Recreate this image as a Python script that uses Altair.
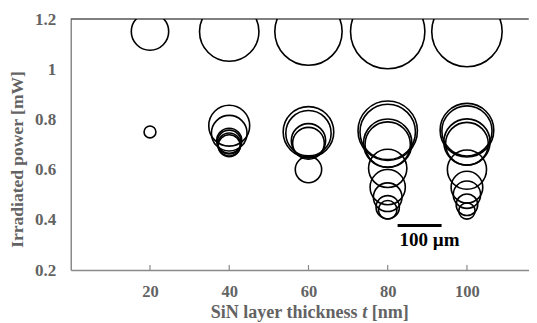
import altair as alt
import pandas as pd

# ---- data ----
# top row (irradiated power ~1.15 mW)
top_thickness = [20, 40, 60, 80, 100]
top_power = [1.15, 1.15, 1.15, 1.15, 1.15]
top_diam_um = [85, 135, 153, 169, 160]

# lower clusters
t20_power = [0.75]
t20_diam = [27]
t40_power = [0.775, 0.745, 0.715, 0.71, 0.70, 0.695]
t40_diam = [93, 81, 57, 54, 52, 50]
t60_power = [0.75, 0.745, 0.715, 0.705, 0.60]
t60_diam = [115, 103, 78, 72, 60]
t80_power = [0.755, 0.75, 0.705, 0.70, 0.605, 0.53, 0.49, 0.45, 0.44]
t80_diam = [135, 126, 110, 103, 87, 80, 65, 53, 42]
t100_power = [0.757, 0.754, 0.71, 0.703, 0.60, 0.53, 0.50, 0.46, 0.435]
t100_diam = [122, 114, 105, 97, 89, 72, 62, 49, 37]

x_ticks = [20, 40, 60, 80, 100]
y_ticks = [0.2, 0.4, 0.6, 0.8, 1.0, 1.2]

scalebar_x = [82.5, 93.6]
scalebar_y = 0.377
scalebar_label = "100 µm"

rows = []
for t, p, d in zip(top_thickness, top_power, top_diam_um):
    rows.append({"t": t, "p": p, "d": d})
for t, plist, dlist in [(20, t20_power, t20_diam), (40, t40_power, t40_diam),
                        (60, t60_power, t60_diam), (80, t80_power, t80_diam),
                        (100, t100_power, t100_diam)]:
    for p, d in zip(plist, dlist):
        rows.append({"t": t, "p": p, "d": d})
df = pd.DataFrame(rows)

W, H = 458, 251
FONT = "Liberation Serif"
GRAY = "#636363"
AXG = "#8a8a8a"

xscale = alt.Scale(domain=[0, 115.6], nice=False, zero=False)
yscale = alt.Scale(domain=[0.2, 1.2], nice=False, zero=False)

circles = alt.Chart(df).mark_point(
    shape="circle", filled=False, stroke="black", strokeWidth=1.6, opacity=1, clip=True
).encode(
    x=alt.X("t:Q", scale=xscale,
            axis=alt.Axis(values=x_ticks, title=None, ticks=False, grid=False,
                          labelPadding=13, labelFont=FONT, labelFontSize=16.5,
                          labelFontWeight="bold", labelColor=GRAY,
                          domainColor=AXG, domainWidth=1.5)),
    y=alt.Y("p:Q", scale=yscale,
            axis=alt.Axis(values=y_ticks, format="~g", title="Irradiated power [mW]",
                          ticks=False, grid=False, labelPadding=15,
                          labelFont=FONT, labelFontSize=17, labelFontWeight="bold",
                          labelColor=GRAY, titleFont=FONT, titleFontSize=17.5,
                          titleFontWeight="bold", titleColor=GRAY, titlePadding=8,
                          titleY=140, domainColor=AXG, domainWidth=1.5)),
    size=alt.Size("d:Q", scale=alt.Scale(type="pow", exponent=2,
                                         domain=[0, 200], range=[0, 7744]),
                  legend=None),
)

tick_df = pd.DataFrame({"t": x_ticks})
ticks = alt.Chart(tick_df).mark_rule(color=AXG, strokeWidth=1.2).encode(
    x=alt.X("t:Q", scale=xscale),
    y=alt.value(H - 5), y2=alt.value(H),
)

top_line = alt.Chart(pd.DataFrame({"a": [0]})).mark_rule(color="black", strokeWidth=1).encode(
    x=alt.value(0), x2=alt.value(W), y=alt.value(0)
)

sb_df = pd.DataFrame({"x1": [scalebar_x[0]], "x2": [scalebar_x[1]], "y": [scalebar_y],
                      "label": [scalebar_label]})
sbar = alt.Chart(sb_df).mark_rule(color="black", strokeWidth=3).encode(
    x=alt.X("x1:Q", scale=xscale), x2="x2:Q", y=alt.Y("y:Q", scale=yscale)
)
sbtext = alt.Chart(sb_df).mark_text(
    align="left", baseline="top", font=FONT, fontSize=19, fontWeight="bold", color="black",
    dy=5, dx=2
).encode(x=alt.X("x1:Q", scale=xscale), y=alt.Y("y:Q", scale=yscale), text="label:N")

TS = 18
TY = 299
title_df = pd.DataFrame({"a": ["SiN layer thickness"], "b": ["t"], "c": ["[nm]"]})
tbase = alt.Chart(title_df)
t1 = tbase.mark_text(align="left", baseline="alphabetic", font=FONT, fontSize=TS,
                     fontWeight="bold", color=GRAY).encode(
    x=alt.value(140), y=alt.value(TY), text="a:N")
t2 = tbase.mark_text(align="center", baseline="alphabetic", font=FONT, fontSize=TS,
                     fontWeight="bold", fontStyle="italic", color=GRAY).encode(
    x=alt.value(294), y=alt.value(TY), text="b:N")
t3 = tbase.mark_text(align="left", baseline="alphabetic", font=FONT, fontSize=TS,
                     fontWeight="bold", color=GRAY).encode(
    x=alt.value(301), y=alt.value(TY), text="c:N")

chart = alt.layer(circles, ticks, top_line, sbar, sbtext, t1, t2, t3).properties(
    width=W, height=H,
    autosize=alt.AutoSizeParams(type="none"),
    padding={"left": 62.75, "top": 11, "right": 0, "bottom": 52},
    background="white",
).configure_view(stroke=None)

chart.save("out.html", embed_options={"renderer": "svg", "actions": False})
